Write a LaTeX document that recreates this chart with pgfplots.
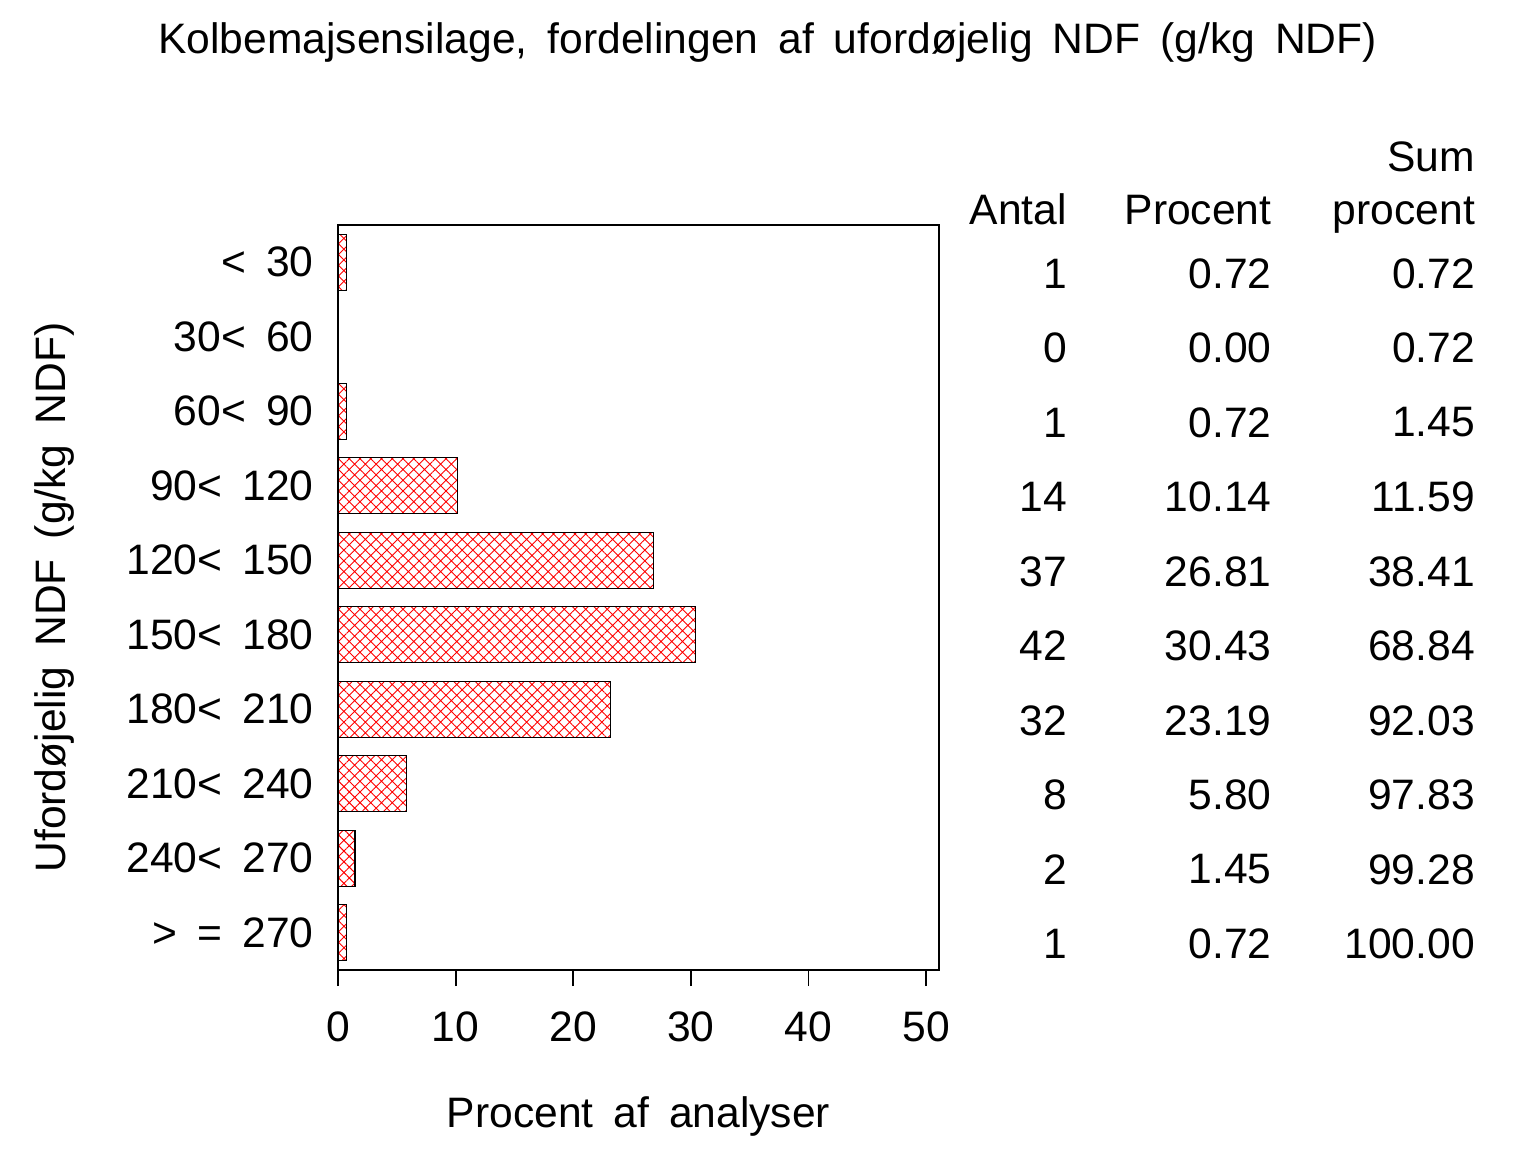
\documentclass[border=0pt]{standalone}
\usepackage{fontspec}
\setmainfont{Liberation Sans}
\usepackage{pgfplots}
\pgfplotsset{compat=1.18}
\usetikzlibrary{patterns.meta}
\newcommand\wide{\spaceskip=10pt\relax}
\begin{document}
\begin{tikzpicture}[font=\fontsize{21.3}{25}\selectfont]
\useasboundingbox (-169pt,-91pt) rectangle (599pt,485pt);
\begin{axis}[
  at={(0,0)}, anchor=south west,
  scale only axis, width=300.5pt, height=372.5pt,
  /pgf/number format/assume math mode=true,
  xmin=0, xmax=51.1, ymin=-0.5, ymax=9.5, y dir=reverse,
  xtick={0,10,...,50}, xtick pos=bottom, tick align=outside,
  major tick length=8pt,
  ytick={0,...,9},
  yticklabels={{< 30},{30< 60},{60< 90},{90< 120},{120< 150},{150< 180},{180< 210},{210< 240},{240< 270},{> = 270}},
  ytick style={draw=none},
  yticklabel style={inner sep=0pt, anchor=east, xshift=-4pt, font=\fontsize{21.3}{25}\selectfont\wide},
  xticklabel style={inner sep=0pt, anchor=center, yshift=-20.5pt},
  axis line style={line width=0.9pt},
  xtick style={line width=0.9pt, black},
  bar width=28pt,
  title={\wide Kolbemajsensilage, fordelingen af ufordøjelig NDF (g/kg NDF)},
  title style={at={(axis description cs:0.715,1.229)}, anchor=center, inner sep=0pt},
  xlabel={\wide Procent af analyser},
  xlabel style={at={(axis description cs:0.5,-0.196)}, anchor=center, inner sep=0pt},
  ylabel={\wide Ufordøjelig NDF (g/kg NDF)},
  ylabel style={at={(axis description cs:-0.471,0.5)}, anchor=center, inner sep=0pt},
  clip=false,
]
\addplot[xbar, draw=black, line width=0.6pt, pattern={Hatch[angle=45,distance=3.8pt,line width=0.45pt]}, pattern color=red]
  coordinates {(0.72,0) (0,1) (0.72,2) (10.14,3) (26.81,4) (30.43,5) (23.19,6) (5.80,7) (1.45,8) (0.72,9)};
\newcommand\row[4]{%
  \node[anchor=east, inner sep=0pt] at (axis cs:62.0,#1+0.15) {#2};
  \node[anchor=east, inner sep=0pt] at (axis cs:79.4,#1+0.15) {#3};
  \node[anchor=east, inner sep=0pt] at (axis cs:96.7,#1+0.15) {#4};}
\row{0}{1}{0.72}{0.72}
\row{1}{0}{0.00}{0.72}
\row{2}{1}{0.72}{1.45}
\row{3}{14}{10.14}{11.59}
\row{4}{37}{26.81}{38.41}
\row{5}{42}{30.43}{68.84}
\row{6}{32}{23.19}{92.03}
\row{7}{8}{5.80}{97.83}
\row{8}{2}{1.45}{99.28}
\row{9}{1}{0.72}{100.00}
\node[anchor=base east, inner sep=0pt] at (axis cs:62.0,-0.51) {Antal};
\node[anchor=base east, inner sep=0pt] at (axis cs:79.4,-0.51) {Procent};
\node[anchor=base east, inner sep=0pt] at (axis cs:96.7,-0.51) {procent};
\node[anchor=base east, inner sep=0pt] at (axis cs:96.7,-1.22) {Sum};
\end{axis}
\end{tikzpicture}
\end{document}
